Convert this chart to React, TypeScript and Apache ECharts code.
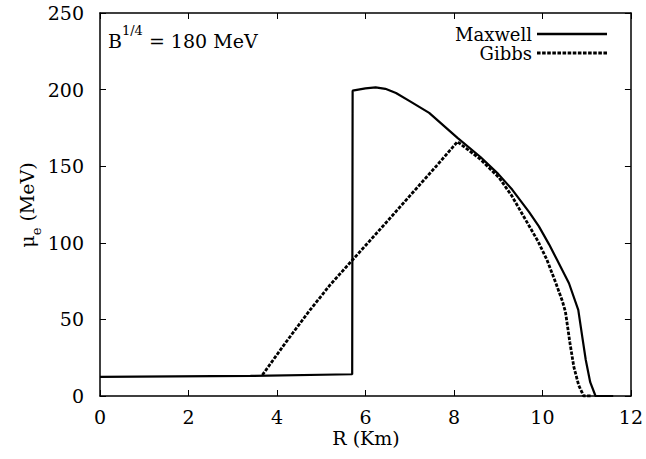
import React, { useEffect, useRef } from "react";
import * as echarts from "echarts";

const maxwellR = [0, 3.4, 5.7, 5.71, 6.0, 6.23, 6.45, 6.69, 7.0, 7.44, 8.08, 8.6, 9.0, 9.32, 9.7, 9.92, 10.15, 10.33, 10.6, 10.81, 10.9, 10.98, 11.08, 11.2, 11.6];
const maxwellMu = [12.5, 13.1, 14.2, 199.3, 200.8, 201.5, 200.5, 197.8, 192.5, 184.8, 168.5, 156, 145, 134.6, 120, 110.7, 99, 88.9, 73.6, 56.2, 38.8, 23.5, 9, 0, 0];
const gibbsR = [3.67, 4.2, 4.73, 5.2, 5.71, 6.12, 6.6, 7.06, 7.6, 8.08, 8.6, 9.02, 9.3, 9.62, 9.9, 10.1, 10.3, 10.45, 10.52, 10.62, 10.71, 10.82, 10.9, 10.93, 11.1];
const gibbsMu = [13.7, 35, 55.5, 72.5, 88.9, 102, 117.5, 132.5, 150, 166, 154.5, 142.5, 131, 115, 101, 89, 74, 62, 55, 35, 19, 7, 2, 0, 0];

const xTicks = [0, 2, 4, 6, 8, 10, 12];
const yTicks = [0, 50, 100, 150, 200, 250];

const FONT = "DejaVu Serif";

function dashedIcon(): string {
  let d = "";
  for (let x = 0; x < 70; x += 5) {
    const w = Math.min(3.5, 70 - x);
    d += `M${x},3.6 L${x + w},3.6 L${x + w},6.4 L${x},6.4 Z `;
  }
  return "path://" + d.trim();
}

export default function App() {
  const ref = useRef<HTMLDivElement>(null);
  useEffect(() => {
    if (!ref.current) return;
    const chart = echarts.init(ref.current, undefined, { renderer: "svg" });
    const axisCommon = {
      type: "value" as const,
      axisLine: { show: true, onZero: false, lineStyle: { color: "#000", width: 1.5 } },
      axisTick: { show: true, inside: true, length: 6, lineStyle: { color: "#000", width: 1 } },
      splitLine: { show: false },
    };
    chart.setOption({
      animation: false,
      backgroundColor: "#fff",
      textStyle: { fontFamily: FONT },
      grid: { left: 100, right: 14, top: 13, bottom: 63 },
      xAxis: [
        {
          ...axisCommon,
          position: "bottom",
          min: xTicks[0],
          max: xTicks[xTicks.length - 1],
          interval: 2,
          axisLabel: { color: "#000", fontFamily: FONT, fontSize: 19, margin: 11 },
        },
        {
          ...axisCommon,
          position: "top",
          min: xTicks[0],
          max: xTicks[xTicks.length - 1],
          interval: 2,
          axisLabel: { show: false },
        },
      ],
      yAxis: [
        {
          ...axisCommon,
          position: "left",
          min: yTicks[0],
          max: yTicks[yTicks.length - 1],
          interval: 50,
          axisLabel: { color: "#000", fontFamily: FONT, fontSize: 19, margin: 16 },
        },
        {
          ...axisCommon,
          position: "right",
          min: yTicks[0],
          max: yTicks[yTicks.length - 1],
          interval: 50,
          axisLabel: { show: false },
        },
      ],
      legend: {
        orient: "vertical",
        right: 34,
        top: 20,
        align: "right",
        itemWidth: 70,
        itemHeight: 10,
        itemGap: 1,
        textStyle: { color: "#000", fontFamily: FONT, fontSize: 18 },
        data: [
          { name: "Maxwell", icon: "path://M0,3.8 L70,3.8 L70,6.2 L0,6.2 Z" },
          { name: "Gibbs", icon: dashedIcon() },
        ],
      },
      series: [
        {
          name: "Maxwell",
          type: "line",
          showSymbol: false,
          symbol: "none",
          data: maxwellR.map((r, i) => [r, maxwellMu[i]]),
          lineStyle: { color: "#000", width: 2.2 },
          itemStyle: { color: "#000" },
        },
        {
          name: "Gibbs",
          type: "line",
          showSymbol: false,
          symbol: "none",
          data: gibbsR.map((r, i) => [r, gibbsMu[i]]),
          lineStyle: { color: "#000", width: 2.8, type: [3.5, 1.5] },
          itemStyle: { color: "#000" },
        },
      ],
      graphic: [
        {
          type: "text",
          left: 108,
          top: 24,
          style: {
            text: "{a|B}{s|1/4}{a| = 180 MeV}",
            fill: "#000",
            rich: {
              a: { fontFamily: FONT, fontSize: 19, lineHeight: 26, verticalAlign: "bottom", fill: "#000" },
              s: { fontFamily: FONT, fontSize: 13, lineHeight: 26, verticalAlign: "top", fill: "#000" },
            },
          },
        },
        {
          type: "text",
          x: 366,
          y: 438,
          style: {
            text: "R (Km)",
            fill: "#000",
            fontFamily: FONT,
            fontSize: 19,
            align: "center",
            verticalAlign: "middle",
          },
        },
        {
          type: "text",
          x: 30,
          y: 205,
          rotation: Math.PI / 2,
          style: {
            text: "{a|μ}{s|e}{a| (MeV)}",
            fill: "#000",
            align: "center",
            verticalAlign: "middle",
            rich: {
              a: { fontFamily: FONT, fontSize: 19, lineHeight: 26, verticalAlign: "top", fill: "#000" },
              s: { fontFamily: FONT, fontSize: 13, lineHeight: 26, verticalAlign: "bottom", fill: "#000" },
            },
          },
        },
      ],
    });
    return () => chart.dispose();
  }, []);
  return <div ref={ref} style={{ width: 646, height: 459, position: "absolute", left: 0, top: 0 }} />;
}
